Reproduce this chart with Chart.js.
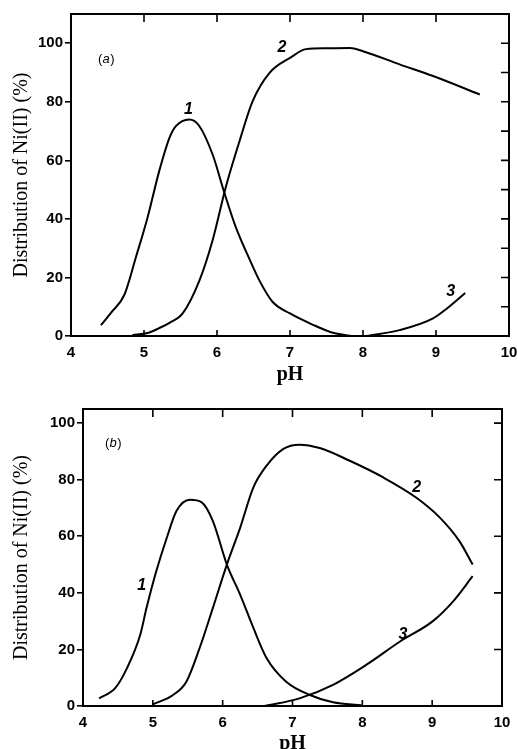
<!DOCTYPE html>
<html>
<head>
<meta charset="utf-8">
<script src="https://cdn.jsdelivr.net/npm/chart.js@4.4.0/dist/chart.umd.min.js"></script>
<style>
    html, body { margin: 0; padding: 0; background: #fff; overflow: hidden; }
    #wrapA { position: absolute; left: 0; top: 0; width: 518px; height: 390px; }
    #wrapB { position: absolute; left: 0; top: 385px; width: 518px; height: 374px; }
</style>
</head>
<body>
<div id="wrapA"><canvas id="chartA" width="518" height="390"></canvas></div>
<div id="wrapB"><canvas id="chartB" width="518" height="374"></canvas></div>
<script>
// panel (a)
const phA1 = [4.41, 4.55, 4.73, 4.89, 5.05, 5.21, 5.35, 5.44, 5.62, 5.75, 5.94, 6.1, 6.26, 6.45, 6.58, 6.76, 7.0, 7.3, 7.6, 7.85];
const valA1 = [3.7, 8, 14, 27, 40.6, 56.5, 67.8, 71.8, 74, 72, 62, 49, 37, 26, 19, 11.7, 7.7, 4, 1, 0];
const phA2 = [4.84, 5.05, 5.2, 5.35, 5.53, 5.76, 5.94, 6.12, 6.31, 6.49, 6.72, 7.0, 7.22, 7.5, 7.82, 8.0, 8.5, 8.96, 9.6];
const valA2 = [0.3, 1, 2.6, 4.5, 7.7, 19, 32.7, 50.8, 66.7, 80.3, 89.9, 95, 98, 98.3, 98.4, 97.3, 92.8, 88.8, 82.5];
const phA3 = [8.05, 8.5, 8.96, 9.15, 9.4];
const valA3 = [0, 2, 6, 9.4, 14.7];
const rightTicksA = [10, 20, 30, 40, 50, 60, 70, 80, 90, 100];
const curveLabelsA = [
    { text: '1', x: 5.61, y: 77.5 },
    { text: '2', x: 6.89, y: 98.6 },
    { text: '3', x: 9.2, y: 15.3 }
];

// panel (b)
const phB1 = [4.23, 4.46, 4.63, 4.82, 4.91, 5.05, 5.2, 5.34, 5.53, 5.7, 5.86, 6.06, 6.25, 6.44, 6.63, 6.91, 7.25, 7.58, 7.99];
const valB1 = [2.7, 6.3, 13.4, 25.2, 34.7, 47.7, 59.5, 69, 72.9, 72, 65.4, 50, 39.4, 27.6, 16.9, 8.6, 3.9, 1.3, 0.3];
const phB2 = [5.0, 5.29, 5.48, 5.67, 5.86, 6.06, 6.25, 6.44, 6.63, 6.87, 7.1, 7.39, 7.82, 8.3, 8.77, 9.11, 9.39, 9.58];
const valB2 = [0.6, 3.9, 8.6, 20.5, 34.7, 50, 63, 77.3, 85, 90.9, 92.4, 91.2, 86.7, 80.8, 73.7, 66.6, 58.3, 50];
const phB3 = [6.6, 7.1, 7.58, 8.06, 8.54, 9.01, 9.3, 9.58];
const valB3 = [0, 2.7, 7.5, 14.6, 22.8, 30, 37, 45.9];
const rightTicksB = [20, 40, 60, 80, 100];
const curveLabelsB = [
    { text: '1', x: 4.84, y: 42.7 },
    { text: '2', x: 8.78, y: 77.3 },
    { text: '3', x: 8.58, y: 25.2 }
];

const xTicks = [5, 6, 7, 8, 9];

function toPoints(xs, ys) {
    return xs.map((v, i) => ({ x: v, y: ys[i] }));
}

function curve(xs, ys) {
    return {
        data: toPoints(xs, ys),
        borderColor: '#000',
        borderWidth: 2,
        pointRadius: 0,
        fill: false,
        cubicInterpolationMode: 'monotone'
    };
}

// frame, inward ticks and curve numbers
const framePlugin = {
    id: 'frame',
    afterDatasetsDraw(chart, args, opts) {
        const ctx = chart.ctx;
        const a = chart.chartArea;
        const x = chart.scales.x;
        const y = chart.scales.y;
        ctx.save();
        ctx.strokeStyle = '#000';
        ctx.lineWidth = 2;
        ctx.strokeRect(a.left, a.top, a.right - a.left, a.bottom - a.top);

        ctx.lineWidth = 1.6;
        ctx.beginPath();
        xTicks.forEach(v => {
            const px = x.getPixelForValue(v);
            ctx.moveTo(px, a.top);
            ctx.lineTo(px, a.top + 8);
            ctx.moveTo(px, a.bottom);
            ctx.lineTo(px, a.bottom - 6);
        });
        opts.rightTicks.forEach(v => {
            const py = y.getPixelForValue(v);
            ctx.moveTo(a.right, py);
            ctx.lineTo(a.right - 8, py);
        });
        ctx.stroke();

        ctx.fillStyle = '#000';
        ctx.textAlign = 'center';
        ctx.textBaseline = 'middle';
        ctx.font = 'italic bold 16px "Liberation Sans"';
        opts.labels.forEach(l => {
            ctx.fillText(l.text, x.getPixelForValue(l.x), y.getPixelForValue(l.y));
        });

        // panel tag like "(a)" with italic letter
        const tx = x.getPixelForValue(opts.tag.x);
        const ty = y.getPixelForValue(opts.tag.y);
        ctx.textAlign = 'left';
        ctx.font = '13px "Liberation Sans"';
        const wOpen = ctx.measureText('(').width;
        ctx.font = 'italic 13px "Liberation Sans"';
        const wLetter = ctx.measureText(opts.tag.text).width;
        const start = tx - (wOpen * 2 + wLetter) / 2;
        ctx.font = '13px "Liberation Sans"';
        ctx.fillText('(', start, ty);
        ctx.font = 'italic 13px "Liberation Sans"';
        ctx.fillText(opts.tag.text, start + wOpen, ty);
        ctx.font = '13px "Liberation Sans"';
        ctx.fillText(')', start + wOpen + wLetter + 0.5, ty);
        ctx.restore();
    }
};

function buildChart(id, datasets, yMax, layout, rightTicks, labels, tag) {
    const ctx = document.getElementById(id).getContext('2d');
    return new Chart(ctx, {
        type: 'line',
        data: { datasets: datasets },
        options: {
            responsive: false,
            animation: false,
            layout: { padding: { top: layout.top, right: layout.right, left: 0, bottom: 0 } },
            plugins: {
                legend: { display: false },
                tooltip: { enabled: false },
                frame: { rightTicks: rightTicks, labels: labels, tag: tag }
            },
            scales: {
                x: {
                    type: 'linear',
                    min: 4,
                    max: 10,
                    grid: { display: false },
                    border: { display: false },
                    ticks: {
                        stepSize: 1,
                        padding: 0,
                        color: '#000',
                        font: { family: '"Liberation Sans"', size: 15, weight: 'bold' }
                    },
                    title: {
                        display: true,
                        text: 'pH',
                        color: '#000',
                        padding: { top: 0, bottom: layout.xTitlePad },
                        font: { family: '"Liberation Serif"', size: 20, weight: 'bold' }
                    },
                    afterFit: s => { s.height = layout.xHeight; }
                },
                y: {
                    min: 0,
                    max: yMax,
                    grid: {
                        drawOnChartArea: false,
                        drawTicks: true,
                        tickLength: 6,
                        color: '#000',
                        lineWidth: 1.6
                    },
                    border: { display: false },
                    ticks: {
                        stepSize: 20,
                        includeBounds: false,
                        padding: 2,
                        color: '#000',
                        font: { family: '"Liberation Sans"', size: 15, weight: 'bold' }
                    },
                    title: {
                        display: true,
                        text: 'Distribution of Ni(II) (%)',
                        color: '#000',
                        padding: { top: layout.yTitlePad, bottom: 0 },
                        font: { family: '"Liberation Serif"', size: 20, weight: 'normal' }
                    },
                    afterFit: s => { s.width = layout.yWidth; }
                }
            }
        },
        plugins: [framePlugin]
    });
}

buildChart('chartA',
    [curve(phA1, valA1), curve(phA2, valA2), curve(phA3, valA3)],
    110,
    { top: 14, right: 9, yWidth: 71, xHeight: 54, xTitlePad: 3, yTitlePad: 10 },
    rightTicksA, curveLabelsA, { text: 'a', x: 4.48, y: 94.5 });

buildChart('chartB',
    [curve(phB1, valB1), curve(phB2, valB2), curve(phB3, valB3)],
    105,
    { top: 24, right: 16, yWidth: 83, xHeight: 53, xTitlePad: 3, yTitlePad: 10 },
    rightTicksB, curveLabelsB, { text: 'b', x: 4.43, y: 92.7 });
</script>
</body>
</html>
